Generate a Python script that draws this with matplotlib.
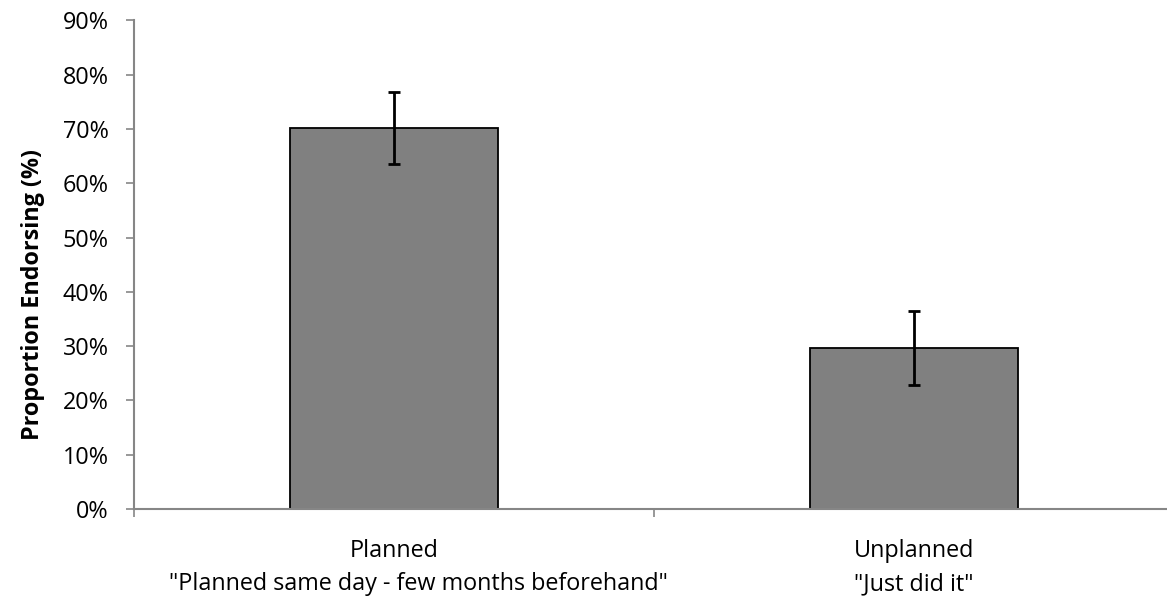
import matplotlib
matplotlib.use("Agg")
import matplotlib.pyplot as plt
from matplotlib.ticker import FixedLocator, PercentFormatter
import matplotlib.transforms as mtransforms

categories = ["Planned", "Unplanned"]
subtitles = ['"Planned same day - few months beforehand"', '"Just did it"']
values = [70.2, 29.7]
errors = [6.7, 6.8]
yticks = [0, 10, 20, 30, 40, 50, 60, 70, 80, 90]

plt.rcParams['font.family'] = ['Open Sans', 'DejaVu Sans']
FS = 16.8

fig = plt.figure(figsize=(11.67, 6.01), dpi=100)
ax = fig.add_axes([0.1146, 0.1531, 0.8911, 0.8128])

x = list(range(len(categories)))
ax.bar(x, values, width=0.4, color="#808080", edgecolor="black", linewidth=1.3, zorder=2)
ax.errorbar(x, values, yerr=errors, fmt="none", ecolor="black", elinewidth=2.0,
            capsize=4.5, capthick=2.0, zorder=3)

ax.set_xlim(-0.5, 1.5)
ax.set_ylim(0, 90)
ax.set_yticks(yticks)
ax.yaxis.set_major_formatter(PercentFormatter(decimals=0))
ax.tick_params(axis='y', direction='out', length=6, width=1.2, color="#868686",
               labelsize=FS, pad=12)

ax.set_xticks([])
ax.xaxis.set_minor_locator(FixedLocator([-0.5, 0.5, 1.5]))
ax.tick_params(axis='x', which='minor', direction='out', length=6, width=1.2, color="#868686")

for s in ['top', 'right']:
    ax.spines[s].set_visible(False)
for s in ['left', 'bottom']:
    ax.spines[s].set_color("#868686")
    ax.spines[s].set_linewidth(1.5)

trans = mtransforms.blended_transform_factory(ax.transData, ax.transAxes)
sub_offsets = [0.047, 0.0]
for i, (c, s) in enumerate(zip(categories, subtitles)):
    ax.text(i, -0.086, c, transform=trans, ha='center', va='center', fontsize=FS)
    ax.text(i + sub_offsets[i], -0.1535, s, transform=trans, ha='center', va='center', fontsize=FS)

ax.set_ylabel("Proportion Endorsing (%)", fontsize=FS, fontweight='bold')
ax.yaxis.set_label_coords(-0.085, 0.44)

fig.savefig("out.png", dpi=100)
